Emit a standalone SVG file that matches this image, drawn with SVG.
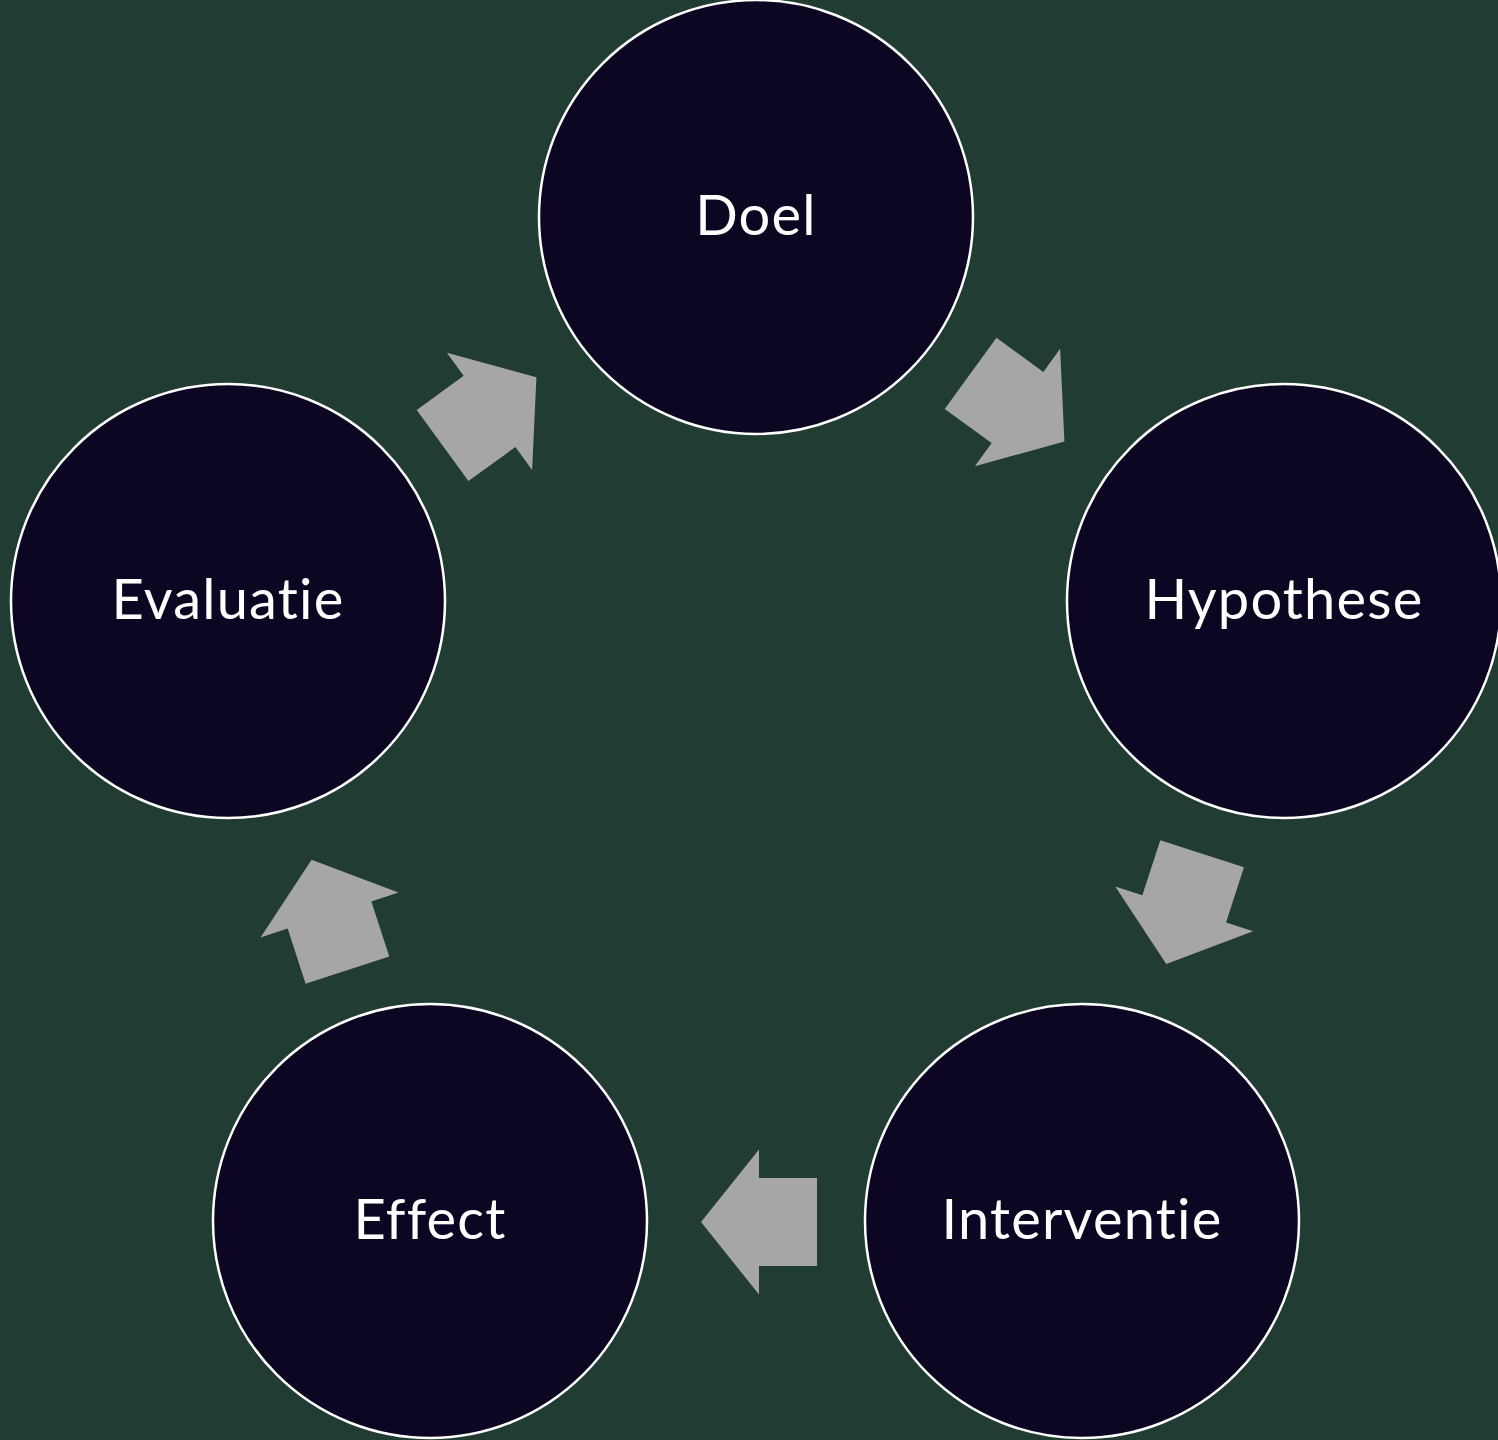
<svg xmlns="http://www.w3.org/2000/svg" width="1498" height="1440" viewBox="0 0 1498 1440">
<defs>
<style>
.node{fill:#0C0623;stroke:#FFFFFF;stroke-width:2.5}
.lbl{fill:#FFFFFF;font-family:Lato,"Open Sans","Liberation Sans",sans-serif;font-size:56px;letter-spacing:1.2px;text-anchor:middle;font-variant-ligatures:none;font-feature-settings:"liga" 0,"clig" 0}
.arr{fill:#A6A6A6}
</style>
<polygon id="ar" points="-58,-44 0,-44 0,-72.5 58,0 0,72.5 0,44 -58,44"/>
</defs>
<rect width="1498" height="1440" fill="#213D33"/>
<g id="connectors">
<use href="#ar" class="arr" transform="translate(1017.5,407.5) rotate(36)"/>
<use href="#ar" class="arr" transform="translate(1184.2,908.9) rotate(108)"/>
<use href="#ar" class="arr" transform="translate(759,1222) rotate(180)"/>
<use href="#ar" class="arr" transform="translate(329.5,915) rotate(-108)"/>
<use href="#ar" class="arr" transform="translate(489.5,411.4) rotate(-36)"/>
</g>
<g id="doel"><circle class="node" cx="756" cy="217" r="217"/><text class="lbl" x="756" y="235">Doel</text></g>
<g id="hypothese"><circle class="node" cx="1284" cy="601" r="217"/><text class="lbl" x="1284" y="619">Hypothese</text></g>
<g id="interventie"><circle class="node" cx="1082" cy="1221" r="217"/><text class="lbl" x="1082" y="1239">Interventie</text></g>
<g id="effect"><circle class="node" cx="430" cy="1221" r="217"/><text class="lbl" x="430" y="1239">Effect</text></g>
<g id="evaluatie"><circle class="node" cx="228" cy="601" r="217"/><text class="lbl" x="228" y="619">Evaluatie</text></g>
</svg>
